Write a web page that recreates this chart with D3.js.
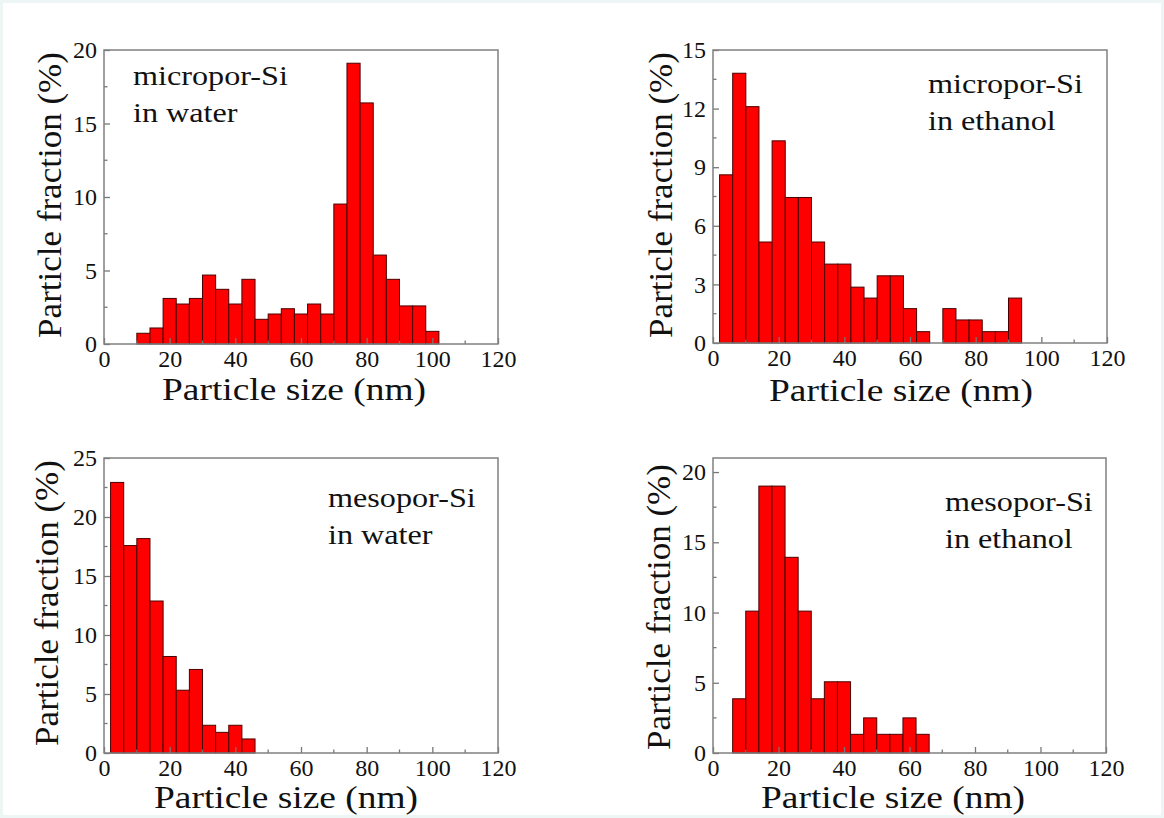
<!DOCTYPE html>
<html>
<head>
<meta charset="utf-8">
<script src="https://cdn.jsdelivr.net/npm/d3@7"></script>
<style>
  html, body { margin: 0; padding: 0; background: #eef5f5; }
  svg { display: block; }
  text { font-family: "Liberation Serif", "Times New Roman", serif; fill: #111; }
</style>
</head>
<body>
<div id="chart"></div>
<script>
// ******* Data *******
var sizeTicks = [0, 20, 40, 60, 80, 100, 120];
var binWidth = 4;

// micropor-Si in water
var microWaterBins = [10, 14, 18, 22, 26, 30, 34, 38, 42, 46, 50, 54, 58, 62, 66, 70, 74, 78, 82, 86, 90, 94, 98];
var microWaterValues = [0.73, 1.09, 3.1, 2.72, 3.1, 4.69, 3.72, 2.72, 4.4, 1.68, 2.04, 2.4, 2.04, 2.72, 2.04, 9.52, 19.1, 16.4, 6.05, 4.4, 2.59, 2.59, 0.86];
var microWaterTicks = [0, 5, 10, 15, 20];

// micropor-Si in ethanol
var microEthBins = [2, 6, 10, 14, 18, 22, 26, 30, 34, 38, 42, 46, 50, 54, 58, 62, 66, 70, 74, 78, 82, 86, 90];
var microEthValues = [8.61, 13.81, 12.1, 5.17, 10.35, 7.45, 7.45, 5.17, 4.04, 4.04, 2.86, 2.3, 3.44, 3.44, 1.76, 0.58, 0, 1.76, 1.18, 1.18, 0.58, 0.58, 2.3];
var microEthTicks = [0, 3, 6, 9, 12, 15];

// mesopor-Si in water
var mesoWaterBins = [2, 6, 10, 14, 18, 22, 26, 30, 34, 38, 42];
var mesoWaterValues = [22.93, 17.58, 18.17, 12.88, 8.18, 5.32, 7.08, 2.35, 1.75, 2.35, 1.19];
var mesoWaterTicks = [0, 5, 10, 15, 20, 25];

// mesopor-Si in ethanol
var mesoEthBins = [6, 10, 14, 18, 22, 26, 30, 34, 38, 42, 46, 50, 54, 58, 62];
var mesoEthValues = [3.86, 10.1, 19.0, 19.0, 13.93, 10.1, 3.86, 5.07, 5.07, 1.33, 2.5, 1.33, 1.33, 2.5, 1.33];
var mesoEthTicks = [0, 5, 10, 15, 20];

var w = 1164;
var h = 818;
var svg = d3.select("#chart").append("svg").attr("width", w).attr("height", h);

svg.append("rect").attr("x", 3).attr("y", 3).attr("width", w - 6).attr("height", h - 6).attr("fill", "#fff");

// ******* Panels *******
var panels = [
  { left: 104, right: 498, top: 50, bottom: 344, ymax: 20, minor: 2.5,
    bins: microWaterBins, values: microWaterValues, ticks: microWaterTicks,
    label: ["micropor-Si", "in water"], lx: 133, ly: 85,
    xtitle: [294, 400], ytitle: [61, 195] },
  { left: 713, right: 1107, top: 50, bottom: 343, ymax: 15, minor: 1.5,
    bins: microEthBins, values: microEthValues, ticks: microEthTicks,
    label: ["micropor-Si", "in ethanol"], lx: 928, ly: 93,
    xtitle: [901, 401], ytitle: [672, 195] },
  { left: 104, right: 498, top: 458, bottom: 753, ymax: 25, minor: 2.5,
    bins: mesoWaterBins, values: mesoWaterValues, ticks: mesoWaterTicks,
    label: ["mesopor-Si", "in water"], lx: 328, ly: 507,
    xtitle: [286, 808], ytitle: [58, 603] },
  { left: 713, right: 1106, top: 458, bottom: 753, ymax: 21, minor: 2.5,
    bins: mesoEthBins, values: mesoEthValues, ticks: mesoEthTicks,
    label: ["mesopor-Si", "in ethanol"], lx: 945, ly: 511,
    xtitle: [893, 808], ytitle: [670, 607] }
];

panels.forEach(function (p) {
  var x = d3.scaleLinear().domain([0, 120]).range([p.left, p.right]);
  var y = d3.scaleLinear().domain([0, p.ymax]).range([p.bottom, p.top]);
  var g = svg.append("g");

  // bars
  g.selectAll("rect.bar")
    .data(p.bins.map(function (b, i) { return { x0: b, v: p.values[i] }; }).filter(function (d) { return d.v > 0; }))
    .enter().append("rect")
    .attr("class", "bar")
    .attr("x", d => x(d.x0))
    .attr("y", d => y(d.v))
    .attr("width", d => x(d.x0 + binWidth) - x(d.x0))
    .attr("height", d => y(0) - y(d.v))
    .attr("fill", "#ff0000")
    .attr("stroke", "#4a0000")
    .attr("stroke-width", 1);

  // minor ticks
  var xMinor = d3.range(10, 120, 20);
  var yMinor = d3.range(p.minor, p.ymax, p.minor * 2);

  // bottom axis (inward ticks)
  var xAxis = d3.axisBottom(x).tickValues(sizeTicks).tickSizeInner(-6).tickSizeOuter(0).tickPadding(6);
  var xa = g.append("g").attr("transform", "translate(0," + p.bottom + ")").call(xAxis);
  xa.select(".domain").remove();
  xa.selectAll("line").attr("stroke", "#777").attr("stroke-width", 1.3);
  xa.selectAll("text").attr("font-size", 24).attr("font-family", "Liberation Serif").attr("fill", "#111");
  g.append("g").selectAll("line").data(xMinor).enter().append("line")
    .attr("x1", d => x(d)).attr("x2", d => x(d))
    .attr("y1", p.bottom).attr("y2", p.bottom - 3.5)
    .attr("stroke", "#777").attr("stroke-width", 1.3);

  // left axis
  var yAxis = d3.axisLeft(y).tickValues(p.ticks).tickSizeInner(-6).tickSizeOuter(0).tickPadding(7);
  var ya = g.append("g").attr("transform", "translate(" + p.left + ",0)").call(yAxis);
  ya.select(".domain").remove();
  ya.selectAll("line").attr("stroke", "#777").attr("stroke-width", 1.3);
  ya.selectAll("text").attr("font-size", 24).attr("font-family", "Liberation Serif").attr("fill", "#111");
  g.append("g").selectAll("line").data(yMinor).enter().append("line")
    .attr("x1", p.left).attr("x2", p.left + 3.5)
    .attr("y1", d => y(d)).attr("y2", d => y(d))
    .attr("stroke", "#777").attr("stroke-width", 1.3);

  // frame
  g.append("rect")
    .attr("x", p.left).attr("y", p.top)
    .attr("width", p.right - p.left).attr("height", p.bottom - p.top)
    .attr("fill", "none").attr("stroke", "#808080").attr("stroke-width", 1.5);

  // annotation
  p.label.forEach(function (t, i) {
    g.append("text")
      .attr("transform", "translate(" + p.lx + "," + (p.ly + i * 36.5) + ") scale(1.15,1)")
      .attr("font-size", 28)
      .text(t);
  });

  // axis titles
  g.append("text")
    .attr("transform", "translate(" + p.xtitle[0] + "," + p.xtitle[1] + ") scale(1.17,1)")
    .attr("text-anchor", "middle")
    .attr("font-size", 32)
    .text("Particle size (nm)");
  g.append("text")
    .attr("transform", "translate(" + p.ytitle[0] + "," + p.ytitle[1] + ") rotate(-90) scale(1.03,1)")
    .attr("text-anchor", "middle")
    .attr("font-size", 34)
    .text("Particle fraction (%)");
});
</script>
</body>
</html>
